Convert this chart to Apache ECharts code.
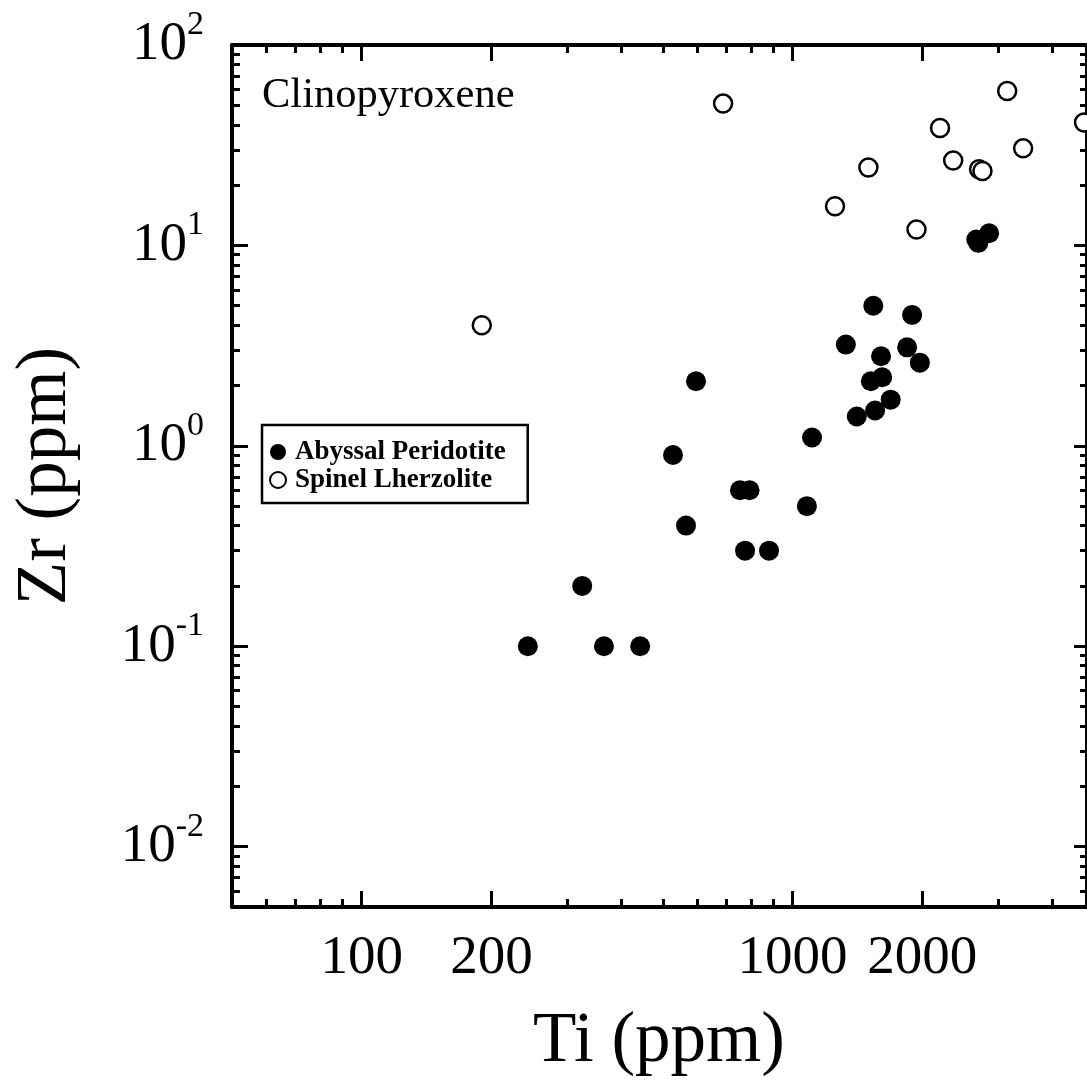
<!DOCTYPE html>
<html>
<head>
<meta charset="utf-8">
<script src="https://cdn.jsdelivr.net/npm/echarts@6/dist/echarts.min.js"></script>
<style>
html,body{margin:0;padding:0;background:#fff;}
#chart{width:1087px;height:1090px;}
</style>
</head>
<body>
<div id="chart"></div>
<script>
// Abyssal Peridotite (filled circles)
const apTi = [243, 325, 365, 443, 528, 566, 597, 755, 795, 776, 882, 1080, 1110, 1330, 1410, 1520, 1540, 1555, 1605, 1615, 1690, 1845, 1895, 1975, 2670, 2700, 2860];
const apZr = [0.1, 0.2, 0.1, 0.1, 0.9, 0.4, 2.1, 0.6, 0.6, 0.3, 0.3, 0.5, 1.1, 3.2, 1.4, 2.1, 5.0, 1.5, 2.8, 2.2, 1.7, 3.1, 4.5, 2.6, 10.7, 10.3, 11.5];
// Spinel Lherzolite (open circles)
const slTi = [190, 690, 1255, 1500, 1940, 2200, 2360, 2710, 2760, 3150, 3430, 4750];
const slZr = [4.0, 51, 15.7, 24.5, 12, 38.5, 26.5, 24, 23.5, 59, 30.5, 41];

const xMajor = [100, 200, 1000, 2000];
const xMinor = [60, 70, 80, 90, 300, 400, 500, 600, 700, 800, 900, 3000, 4000];
const yMajor = [0.01, 0.1, 1, 10, 100];
const yMinor = [0.006, 0.007, 0.008, 0.009, 0.02, 0.03, 0.04, 0.05, 0.06, 0.07, 0.08, 0.09,
                0.2, 0.3, 0.4, 0.5, 0.6, 0.7, 0.8, 0.9, 2, 3, 4, 5, 6, 7, 8, 9,
                20, 30, 40, 50, 60, 70, 80, 90];

const FONT = '"Liberation Serif", "Times New Roman", serif';
const X_MIN = 50, X_MAX = 4800, Y_MIN = 0.005, Y_MAX = 100;

function xAx(pos, ticks, len, showLine, lineW, labels) {
  return {
    type: 'log', logBase: 10, position: pos, min: X_MIN, max: X_MAX,
    axisLine: {show: showLine, onZero: false, lineStyle: {color: '#000', width: lineW}},
    axisTick: {show: true, inside: true, length: len, customValues: ticks, lineStyle: {color: '#000', width: 3}},
    axisLabel: labels ? {
      show: true, customValues: xMajor, fontSize: 55, fontFamily: FONT, color: '#000', margin: 24,
      formatter: v => String(Math.round(v))
    } : {show: false},
    splitLine: {show: false}, minorTick: {show: false}
  };
}
function yAx(pos, ticks, len, showLine, lineW, labels) {
  return {
    type: 'log', logBase: 10, position: pos, min: Y_MIN, max: Y_MAX,
    axisLine: {show: showLine, onZero: false, lineStyle: {color: '#000', width: lineW}},
    axisTick: {show: true, inside: true, length: len, customValues: ticks, lineStyle: {color: '#000', width: 3}},
    axisLabel: labels ? {
      show: true, customValues: yMajor, margin: 28, align: 'right',
      formatter: v => '{b|10}{s|' + Math.round(Math.log10(v)) + '}',
      rich: {
        b: {fontSize: 55, fontFamily: FONT, color: '#000', lineHeight: 55},
        s: {fontSize: 34, fontFamily: FONT, color: '#000', lineHeight: 34, padding: [0, 0, 40, 0]}
      }
    } : {show: false},
    splitLine: {show: false}, minorTick: {show: false}
  };
}

const xAxes = [
  Object.assign(xAx('bottom', xMajor, 16, true, 4, true), {
    name: 'Ti (ppm)', nameLocation: 'middle', nameGap: 100,
    nameTextStyle: {fontSize: 71, fontFamily: FONT, color: '#000'}
  }),
  xAx('bottom', xMinor, 8, false, 4, false),
  xAx('top', xMajor, 16, true, 4, false),
  xAx('top', xMinor, 8, false, 4, false)
];
const yAxes = [
  Object.assign(yAx('left', yMajor, 16, true, 4, true), {
    name: 'Zr (ppm)', nameLocation: 'middle', nameGap: 150, nameRotate: 90,
    nameTextStyle: {fontSize: 71, fontFamily: FONT, color: '#000'}
  }),
  yAx('left', yMinor, 8, false, 4, false),
  yAx('right', yMajor, 12, true, 2, false),
  yAx('right', yMinor, 6, false, 2, false)
];

const chart = echarts.init(document.getElementById('chart'), null, {renderer: 'canvas'});
chart.setOption({
  backgroundColor: '#fff',
  animation: false,
  grid: {left: 232, top: 45, right: 1, bottom: 183, containLabel: false},
  xAxis: xAxes,
  yAxis: yAxes,
  legend: {
    left: 262, top: 425, orient: 'vertical',
    backgroundColor: '#fff', borderColor: '#000', borderWidth: 2.5, borderRadius: 0,
    padding: [13, 22, 9, 7], itemGap: 0, itemWidth: 16, itemHeight: 16,
    textStyle: {fontSize: 27, fontFamily: FONT, fontWeight: 'bold', color: '#000', lineHeight: 28, padding: [0, 0, 0, 4]},
    data: ['Abyssal Peridotite', 'Spinel Lherzolite']
  },
  graphic: [{
    type: 'text', left: 262, top: 74,
    style: {text: 'Clinopyroxene', font: '42.5px ' + FONT, fill: '#000'}
  }],
  series: [
    {
      name: 'Abyssal Peridotite', type: 'scatter', xAxisIndex: 0, yAxisIndex: 0,
      symbol: 'circle', symbolSize: 20,
      itemStyle: {color: '#000', opacity: 1},
      data: apTi.map((t, i) => [t, apZr[i]])
    },
    {
      name: 'Spinel Lherzolite', type: 'scatter', xAxisIndex: 0, yAxisIndex: 0,
      symbol: 'circle', symbolSize: 18,
      itemStyle: {color: '#fff', borderColor: '#000', borderWidth: 2.5, opacity: 1},
      data: slTi.map((t, i) => [t, slZr[i]])
    }
  ]
});
</script>
</body>
</html>
